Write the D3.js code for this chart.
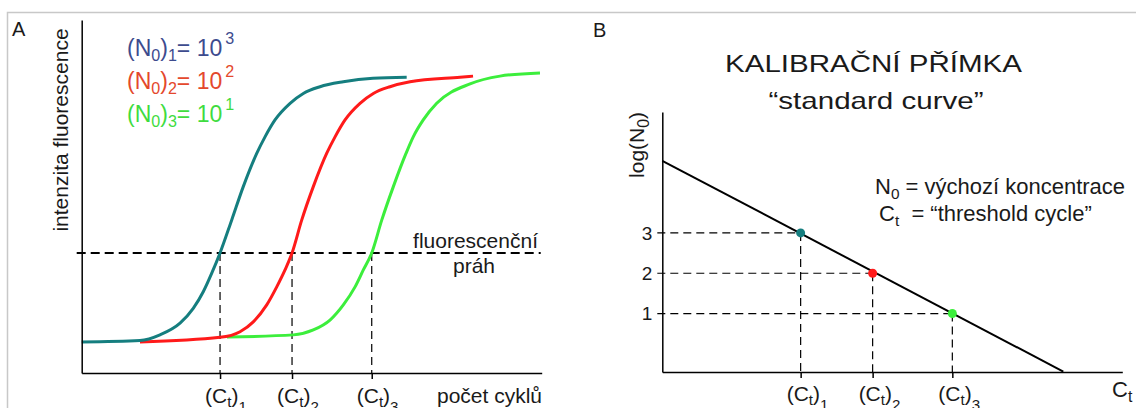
<!DOCTYPE html>
<html lang="cs">
<head>
<meta charset="UTF-8" />
<title>Real-time PCR – kalibrační přímka</title>
<script src="https://d3js.org/d3.v7.min.js"></script>
<style>
  body { margin: 0; background: #fff; }
  svg { display: block; font-family: "Liberation Sans", Arial, sans-serif; }
  text { white-space: pre; fill: #1a1a1a; }
  .axis path, .axis line { stroke: #000; stroke-width: 1.5; }
</style>
</head>
<body>
<div id="chart"></div>
<script>
// amplification curves (cycle, fluorescence)
const cyclesTeal = [0, 5.07, 6.81, 8.55, 9.70, 10.57, 11.30, 12.03, 13.04, 14.05, 15.22, 15.94, 16.81, 18.12, 19.27, 20.72, 22.75, 25.33, 28.26];
const fluorTeal = [8.8, 9.2, 10.8, 14.1, 18.3, 23.0, 28.2, 34.0, 43.3, 52.8, 62.2, 66.9, 71.7, 76.4, 79.2, 81.1, 82.5, 83.5, 83.8];
const cyclesRed = [5.07, 12.03, 13.77, 14.92, 16.09, 16.96, 17.68, 18.29, 19.13, 20.14, 21.30, 22.03, 22.90, 24.2, 25.36, 26.81, 28.55, 32.9, 34.03];
const fluorRed = [8.8, 10.1, 11.7, 14.5, 19.3, 24.4, 29.2, 34.0, 43.3, 52.8, 62.2, 66.9, 71.7, 76.4, 79.2, 81.1, 82.5, 83.8, 84.1];
const cyclesGreen = [12.63, 18.4, 20.14, 21.59, 22.75, 23.77, 24.49, 25.22, 26.09, 27.10, 28.2, 28.83, 29.7, 30.87, 33.77, 36.37, 39.85];
const fluorGreen = [10.2, 10.8, 12.2, 15.0, 19.3, 24.4, 29.2, 34.0, 43.3, 52.8, 62.2, 66.9, 71.7, 76.4, 81.9, 84.1, 85.0];

const threshold = 34.0;
const ctValues = [12.03, 18.29, 25.22];
const logN0 = [3, 2, 1];
const exponents = ["3", "2", "1"];

// standard curve end points (Ct, log N0)
const stdLineCt = [0, 34.87];
const stdLineLog = [4.79, -0.44];

const curveColors = ["#157e7f", "#ff1a1a", "#3cee3c"];
const legendColors = ["#3d4b8e", "#e4482c", "#3fdc3f"];

const width = 1136, height = 408;
const svg = d3.select("#chart").append("svg").attr("width", width).attr("height", height);

// text with sub/superscripts: parts = [text, offset, scale, dx]
function rich(sel, x, y, size, parts, anchor, color) {
  const t = sel.append("text").attr("x", x).attr("y", y).attr("font-size", size)
    .attr("text-anchor", anchor || "start");
  if (color) t.style("fill", color);
  let shift = 0;
  parts.forEach(p => {
    const [str, off = 0, scale = 1, dx = 0] = p;
    t.append("tspan").attr("dy", off - shift).attr("dx", dx)
      .attr("font-size", size * scale).text(str);
    shift = off;
  });
  return t;
}

// frame
svg.append("path").attr("d", "M7.5,408V12.5H1136")
  .attr("fill", "none").attr("stroke", "#c8c8c8").attr("stroke-width", 1.5);

// ---------- panel A ----------
const xA = d3.scaleLinear().domain([0, 40]).range([81.7, 541.7]);
const yA = d3.scaleLinear().domain([0, 100]).range([373, 20]);

svg.append("text").attr("x", 12).attr("y", 36).attr("font-size", 20).text("A");

// threshold and Ct drop lines
svg.append("line")
  .attr("x1", xA(0) - 5).attr("x2", xA(40) - 1)
  .attr("y1", yA(threshold)).attr("y2", yA(threshold))
  .attr("stroke", "#000").attr("stroke-width", 2.2).attr("stroke-dasharray", "9,5");

svg.selectAll(".dropA").data(ctValues).join("line")
  .attr("class", "dropA")
  .attr("x1", d => xA(d)).attr("x2", d => xA(d))
  .attr("y1", yA(threshold)).attr("y2", yA(0))
  .attr("stroke", "#000").attr("stroke-width", 1.2).attr("stroke-dasharray", "8,5");

const line = d3.line().x(d => xA(d[0])).y(d => yA(d[1])).curve(d3.curveMonotoneX);
const series = [
  d3.zip(cyclesGreen, fluorGreen),
  d3.zip(cyclesRed, fluorRed),
  d3.zip(cyclesTeal, fluorTeal)
];
const seriesColors = [curveColors[2], curveColors[1], curveColors[0]];
svg.selectAll(".curve").data(series).join("path")
  .attr("class", "curve")
  .attr("d", line)
  .attr("fill", "none")
  .attr("stroke", (d, i) => seriesColors[i])
  .attr("stroke-width", 3)
  .attr("stroke-linecap", "butt");

svg.append("g").attr("class", "axis").attr("transform", `translate(0,${yA(0)})`)
  .call(d3.axisBottom(xA).tickValues(ctValues).tickSize(6).tickSizeOuter(0).tickFormat(""));
svg.append("g").attr("class", "axis").attr("transform", `translate(${xA(0)},0)`)
  .call(d3.axisLeft(yA).tickValues([]).tickSizeOuter(0));

// legend
exponents.forEach((e, i) => {
  rich(svg, 127, 56 + i * 32.8, 23, [
    ["(N"], ["0", 5, 0.7], [")", 0], [String(i + 1), 5, 0.7], ["= 10", 0], [e, -12, 0.7, 3]
  ], "start", legendColors[i]);
});

// labels
rich(svg.append("g").attr("transform", "translate(68,130) rotate(-90)"), 0, 0, 21,
  [["intenzita fluorescence"]], "middle");
svg.append("text").attr("x", 538).attr("y", 248).attr("font-size", 21)
  .attr("text-anchor", "end").text("fluorescenční");
svg.append("text").attr("x", 474).attr("y", 273).attr("font-size", 21)
  .attr("text-anchor", "middle").text("práh");
svg.append("text").attr("x", 437).attr("y", 403).attr("font-size", 21).text("počet cyklů");

ctValues.forEach((c, i) => {
  rich(svg, xA(c) - 15, 403, 21, [["(C"], ["t", 4, 0.72], [")", 0], [String(i + 1), 9, 0.72]]);
});

// ---------- panel B ----------
const xB = d3.scaleLinear().domain([0, 40]).range([662.3, 1122.3]);
const yB = d3.scaleLinear().domain([-0.45, 6.0]).range([372, 112]);

svg.append("text").attr("x", 593).attr("y", 37).attr("font-size", 20).text("B");
svg.append("text").attr("x", 873.5).attr("y", 72).attr("font-size", 24)
  .attr("text-anchor", "middle")
  .attr("textLength", 297).attr("lengthAdjust", "spacingAndGlyphs")
  .text("KALIBRAČNÍ PŘÍMKA");
svg.append("text").attr("x", 876).attr("y", 109).attr("font-size", 24)
  .attr("text-anchor", "middle")
  .attr("textLength", 215).attr("lengthAdjust", "spacingAndGlyphs")
  .text("“standard curve”");

rich(svg, 875, 194, 22, [["N"], ["0", 5, 0.7], [" = výchozí koncentrace", 0]]);
rich(svg, 879, 221, 22, [["C"], ["t", 5, 0.7], ["  = “threshold cycle”", 0]]);

// dashed guides
svg.selectAll(".hB").data(ctValues).join("line")
  .attr("class", "hB")
  .attr("x1", xB(0) - 5).attr("x2", d => xB(d))
  .attr("y1", (d, i) => yB(logN0[i])).attr("y2", (d, i) => yB(logN0[i]))
  .attr("stroke", "#000").attr("stroke-width", 1.2).attr("stroke-dasharray", "8,5");
svg.selectAll(".vB").data(ctValues).join("line")
  .attr("class", "vB")
  .attr("x1", d => xB(d)).attr("x2", d => xB(d))
  .attr("y1", (d, i) => yB(logN0[i])).attr("y2", yB(-0.45))
  .attr("stroke", "#000").attr("stroke-width", 1.2).attr("stroke-dasharray", "8,5");

svg.append("path")
  .datum(d3.zip(stdLineCt, stdLineLog))
  .attr("d", d3.line().x(d => xB(d[0])).y(d => yB(d[1])))
  .attr("fill", "none").attr("stroke", "#000").attr("stroke-width", 2);

svg.append("g").attr("class", "axis").attr("transform", `translate(0,${yB(-0.45)})`)
  .call(d3.axisBottom(xB).tickValues(ctValues).tickSize(6).tickSizeOuter(0).tickFormat(""));
const yAxisB = svg.append("g").attr("class", "axis").attr("transform", `translate(${xB(0)},0)`)
  .call(d3.axisLeft(yB).tickValues(logN0).tickSize(0).tickPadding(10).tickSizeOuter(0)
    .tickFormat(d3.format("d")));
yAxisB.selectAll("text").attr("font-size", 19).attr("font-family", null).style("fill", "#1a1a1a");

svg.selectAll(".pt").data(ctValues).join("circle")
  .attr("class", "pt")
  .attr("cx", d => xB(d)).attr("cy", (d, i) => yB(logN0[i]))
  .attr("r", 4.5)
  .attr("fill", (d, i) => curveColors[i]);

rich(svg.append("g").attr("transform", "translate(644,145) rotate(-90)"), 0, 0, 21,
  [["log(N"], ["0", 5, 0.75], [")", 0]], "middle");

ctValues.forEach((c, i) => {
  rich(svg, xB(c) - 14, 401, 21, [["(C"], ["t", 4, 0.72], [")", 0], [String(i + 1), 9, 0.72]]);
});
rich(svg, 1112, 397, 22, [["C"], ["t", 5, 0.72]]);
</script>
</body>
</html>
